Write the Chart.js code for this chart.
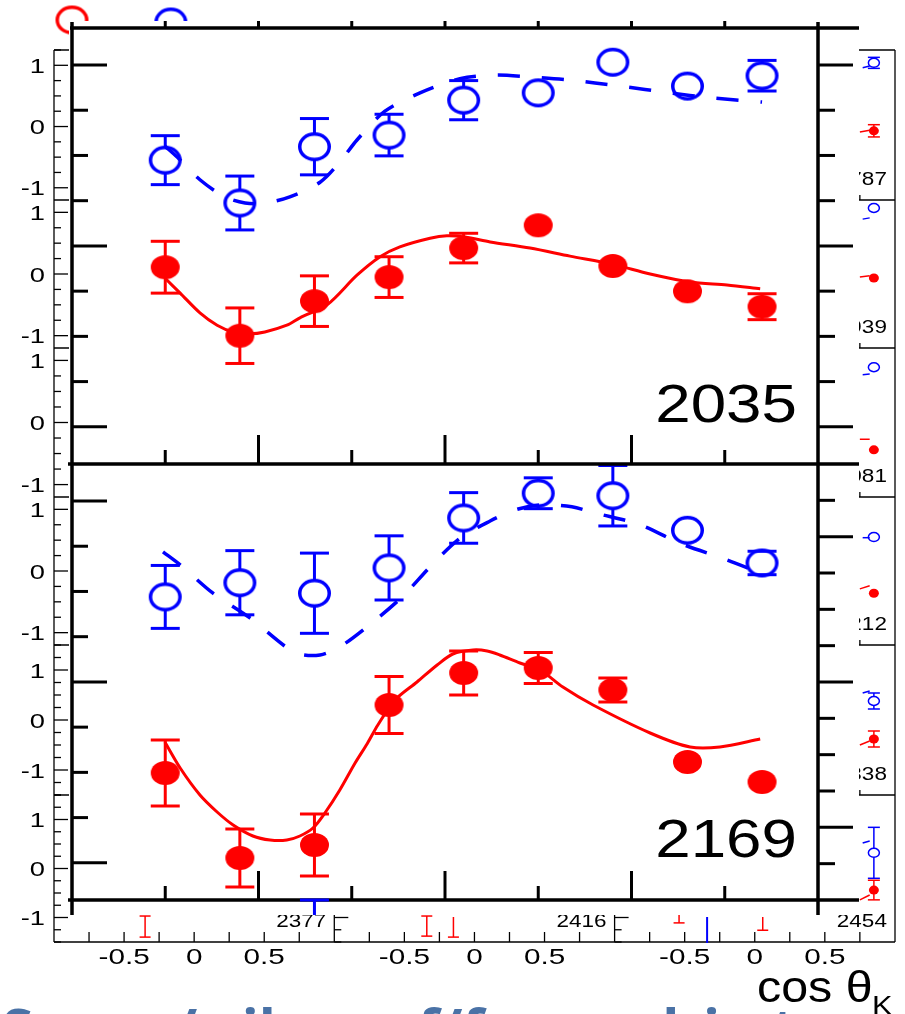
<!DOCTYPE html>
<html>
<head>
<meta charset="utf-8">
<title>K+ Lambda polarization vs cos theta_K</title>
<script src="https://cdn.jsdelivr.net/npm/chart.js@4.4.1/dist/chart.umd.min.js"></script>
<style>
  html, body { margin: 0; padding: 0; background: #fff; overflow: hidden; }
  canvas { display: block; }
</style>
</head>
<body>
<canvas id="plot" width="905" height="1014"></canvas>
<script>
// ---------- data ----------
const cosBins = [-0.75, -0.55, -0.35, -0.15, 0.05, 0.25, 0.45, 0.65, 0.85];
const energyLabels = ['2035', '2169'];

// W = 2035 MeV
const blue2035    = [-0.55, -1.25, -0.33, -0.14, 0.43, 0.55, 1.05, 0.66, 0.83];
const blue2035Err = [0.40, 0.44, 0.46, 0.34, 0.32, 0.05, 0.05, 0.05, 0.25];
const red2035     = [0.11, -1.00, -0.44, -0.05, 0.42, 0.79, 0.13, -0.28, -0.53];
const red2035Err  = [0.42, 0.45, 0.41, 0.33, 0.24, 0.05, 0.05, 0.05, 0.21];

// W = 2169 MeV
const blue2169    = [-0.42, -0.19, -0.36, 0.05, 0.86, 1.26, 1.22, 0.66, 0.13];
const blue2169Err = [0.51, 0.52, 0.65, 0.52, 0.41, 0.25, 0.49, 0.05, 0.19];
const red2169     = [-0.23, -1.08, -0.95, 0.45, 0.77, 0.82, 0.60, -0.12, -0.32];
const red2169Err  = [0.33, 0.29, 0.31, 0.285, 0.22, 0.155, 0.12, 0.05, 0.05];

// model curves
const blueFit2035X = [-0.751, -0.718, -0.657, -0.590, -0.536, -0.483, -0.416, -0.335, -0.282, -0.236, -0.161, -0.067, 0.040, 0.134, 0.228, 0.335, 0.469, 0.603, 0.710, 0.850];
const blueFit2035Y = [-0.32, -0.50, -0.87, -1.15, -1.25, -1.25, -1.15, -0.91, -0.58, -0.22, 0.25, 0.55, 0.78, 0.84, 0.81, 0.76, 0.66, 0.55, 0.47, 0.40];
const redFit2035X  = [-0.751, -0.710, -0.657, -0.611, -0.568, -0.523, -0.483, -0.424, -0.389, -0.316, -0.236, -0.174, -0.121, -0.040, 0.005, 0.054, 0.121, 0.228, 0.335, 0.448, 0.550, 0.657, 0.756, 0.845];
const redFit2035Y  = [-0.065, -0.31, -0.63, -0.83, -0.94, -0.97, -0.94, -0.83, -0.71, -0.50, -0.02, 0.28, 0.44, 0.58, 0.62, 0.60, 0.52, 0.42, 0.29, 0.16, 0.00, -0.13, -0.18, -0.24];
const blueFit2169X = [-0.756, -0.710, -0.622, -0.523, -0.429, -0.389, -0.335, -0.282, -0.206, -0.115, -0.038, 0.040, 0.121, 0.188, 0.255, 0.340, 0.402, 0.523, 0.630, 0.756, 0.845];
const blueFit2169Y = [0.31, 0.10, -0.36, -0.76, -1.22, -1.35, -1.36, -1.23, -0.89, -0.42, 0.08, 0.53, 0.81, 0.99, 1.07, 1.04, 0.94, 0.75, 0.45, 0.18, -0.03];
const redFit2169X  = [-0.751, -0.710, -0.657, -0.611, -0.568, -0.515, -0.469, -0.424, -0.389, -0.354, -0.322, -0.282, -0.241, -0.209, -0.180, -0.134, -0.075, -0.021, 0.021, 0.075, 0.113, 0.147, 0.201, 0.255, 0.316, 0.397, 0.550, 0.657, 0.737, 0.845];
const redFit2169Y  = [0.08, -0.18, -0.45, -0.62, -0.75, -0.86, -0.90, -0.90, -0.86, -0.78, -0.63, -0.40, -0.13, 0.06, 0.25, 0.50, 0.68, 0.85, 0.96, 1.00, 0.99, 0.95, 0.87, 0.80, 0.63, 0.45, 0.17, 0.03, 0.03, 0.11];

// small overview panels behind the enlarged view
const rowTickValues = [1, 0, -1];
const rowTickLabels = ['1', '0', '-1'];
const xTickValues = [-0.5, 0, 0.5];
const xTickLabels = ['-0.5', '0', '0.5'];
const col3Energies = ['1787', '1939', '2081', '2212', '2338', '2454'];
const bottomRowEnergies = ['2377', '2416', '2454'];
// last-bin points of the right-hand column (one per row)
const rightBlue    = [1.04, 1.07, 0.89, 0.55, 0.38, 0.32];
const rightBlueErr = [0.09, 0.05, 0.05, 0.05, 0.16, 0.52];
const rightRed     = [-0.07, -0.065, -0.44, -0.36, -0.38, -0.44];
const rightRedErr  = [0.10, 0.05, 0.05, 0.05, 0.16, 0.20];
const rightBlueStub = [[0.96, 0.99], [0.89, 0.91], [0.77, 0.78], [0.54, 0.54], [0.54, 0.58], [0.52, 0.56]];
const rightRedStub  = [[-0.09, -0.06], [-0.05, -0.03], [-0.27, -0.27], [-0.29, -0.24], [-0.50, -0.42], [-0.64, -0.54]];
// error bars of the bottom row poking out below the enlarged view
const stripCol   = [0, 1, 1, 2, 2, 2];
const stripCos   = [-0.35, -0.34, -0.15, -0.54, -0.34, 0.057];
const stripHi    = [-0.97, -0.97, -0.99, -0.91, -0.99, -0.99];
const stripLo    = [-1.40, -1.38, -1.40, -1.11, -1.52, -1.26];
const stripColor = ['red', 'red', 'red', 'red', 'blue', 'red'];
const stripCaps  = ['both', 'both', 'low', 'low', 'none', 'low'];

// ---------- layout ----------
const W = 905, H = 1014;
const FONT = '"Liberation Sans", Arial, Helvetica, sans-serif';
const BLUE = '#0000ff', RED = '#ff0000';
const frame = { left: 72, right: 818, top: 28, mid: 464, bottom: 900 };
const pad = { left: 69, right: 859, top: 21, bottom: 915 };
const rowTop = [50, 200, 348, 497, 645, 795];
const rowBot = [200, 348, 497, 645, 795, 942];
const rowMin = [-1.2, -1.2, -1.2, -1.2, -1.5, -1.5];
const rowMax = [1.25, 1.2, 1.2, 1.2, 1.5, 1.5];
const colLeft = [54, 334.3, 614.6];
const colWidth = 280.3;
const gridRight = 895;

function rowY(r, v) {
  return rowBot[r] - (v - rowMin[r]) / (rowMax[r] - rowMin[r]) * (rowBot[r] - rowTop[r]);
}
function colX(c, v) { return colLeft[c] + (v + 1) / 2 * colWidth; }
function line(g, x1, y1, x2, y2) { g.beginPath(); g.moveTo(x1, y1); g.lineTo(x2, y2); g.stroke(); }
function text(g, str, x, y, size, align, sx, weight, family) {
  g.save();
  g.font = (weight || 'normal') + ' ' + size + 'px ' + (family || FONT);
  g.translate(x, y);
  g.scale(sx, 1);
  g.textAlign = align;
  g.textBaseline = 'alphabetic';
  g.fillText(str, 0, 0);
  g.restore();
}
function ellipseImg(rx, ry, lw, color, filled) {
  const c = document.createElement('canvas');
  c.width = Math.ceil(2 * rx + lw + 2);
  c.height = Math.ceil(2 * ry + lw + 2);
  const g = c.getContext('2d');
  g.beginPath();
  g.ellipse(c.width / 2, c.height / 2, rx, ry, 0, 0, Math.PI * 2);
  if (filled) { g.fillStyle = color; g.fill(); }
  else { g.strokeStyle = color; g.lineWidth = lw; g.stroke(); }
  return c;
}

const ring = { rx: 14.75, ry: 12.75, lw: 3.5 };
const dot = { rx: 14.5, ry: 12 };
const ringBlue = ellipseImg(ring.rx, ring.ry, ring.lw, BLUE, false);
const ringRed = ellipseImg(ring.rx, ring.ry, ring.lw, RED, false);
const dotRed = ellipseImg(dot.rx, dot.ry, 0, RED, true);

// y axis for one sub-plot: zero line position and pixels per unit inside the plot frame
function yAxis(zeroPx, ppu) {
  return {
    type: 'linear', display: false, bounds: 'data',
    min: -(frame.bottom - zeroPx) / ppu,
    max: (zeroPx - frame.top) / ppu
  };
}

const pts = ys => cosBins.map((x, i) => ({ x, y: ys[i] }));
const curve = (xs, ys) => xs.map((x, i) => ({ x, y: ys[i] }));

function fitSet(label, xs, ys, axis, color, dashed) {
  return {
    label, data: curve(xs, ys), yAxisID: axis, showLine: true,
    borderColor: color, borderWidth: dashed ? 3.5 : 3, borderDash: dashed ? [22, 22] : [],
    pointRadius: 0, tension: 0.3, order: 2, clip: false
  };
}
function pointSet(label, ys, errs, axis, open) {
  return {
    label, data: pts(ys), yAxisID: axis, showLine: false,
    pointStyle: open ? ringBlue : dotRed, pointRadius: 15,
    borderColor: open ? BLUE : RED, backgroundColor: open ? BLUE : RED,
    order: 1, clip: false, errors: errs, openMarker: open
  };
}

// ---------- plugins ----------
const backdrop = {
  id: 'backdrop',
  beforeDraw(chart) {
    const g = chart.ctx;
    g.save();
    g.fillStyle = '#fff';
    g.fillRect(0, 0, W, H);
    g.strokeStyle = '#000';
    g.fillStyle = '#000';
    g.lineWidth = 1.3;

    // panel frames
    line(g, colLeft[0], rowTop[0], gridRight, rowTop[0]);
    rowBot.forEach(y => line(g, colLeft[0], y, gridRight, y));
    colLeft.forEach(x => line(g, x, rowTop[0], x, rowBot[5]));
    line(g, gridRight, rowTop[0], gridRight, rowBot[5]);

    for (let r = 0; r < rowTop.length; r++) {
      for (let c = 0; c < 3; c++) {
        for (let v = Math.ceil(rowMin[r] * 4) / 4; v <= rowMax[r] + 1e-9; v += 0.25) {
          const y = rowY(r, v);
          const major = Math.abs(v - Math.round(v)) < 1e-6;
          line(g, colLeft[c], y, colLeft[c] + (major ? 14 : 7), y);
        }
        for (let v = -0.75; v <= 0.75 + 1e-9; v += 0.25) {
          const x = colX(c, v);
          line(g, x, rowBot[r] - (r === 5 ? 10 : 5), x, rowBot[r]);
        }
      }
      rowTickValues.forEach((v, i) => text(g, rowTickLabels[i], 45, rowY(r, v) + 7.5, 21, 'right', 1.3));
      text(g, col3Energies[r], colLeft[2] + colWidth - 8, rowBot[r] - 15, 18, 'right', 1.25);
    }
    bottomRowEnergies.forEach((e, c) => {
      if (c < 2) text(g, e, colLeft[c] + colWidth - 8, rowBot[5] - 15, 18, 'right', 1.25);
    });
    for (let c = 0; c < 3; c++) {
      xTickValues.forEach((v, i) => text(g, xTickLabels[i], colX(c, v), 964, 22, 'center', 1.35));
    }

    // last-bin markers of the right-hand column
    g.lineWidth = 1.5;
    for (let r = 0; r < rowTop.length; r++) {
      const x = colX(2, 0.85);
      // model stubs
      g.strokeStyle = BLUE;
      line(g, colX(2, 0.77), rowY(r, rightBlueStub[r][0]), colX(2, 0.82), rowY(r, rightBlueStub[r][1]));
      g.strokeStyle = RED;
      line(g, colX(2, 0.75), rowY(r, rightRedStub[r][0]), colX(2, 0.82), rowY(r, rightRedStub[r][1]));
      // blue open marker
      const yb = rowY(r, rightBlue[r]);
      const eb = rowY(r, rightBlue[r] - rightBlueErr[r]) - yb;
      g.strokeStyle = BLUE;
      if (eb > 5) {
        line(g, x, yb - eb, x, yb - 4.5); line(g, x, yb + 4.5, x, yb + eb);
        line(g, x - 6, yb - eb, x + 6, yb - eb); line(g, x - 6, yb + eb, x + 6, yb + eb);
      }
      g.beginPath(); g.ellipse(x, yb, 5.5, 4.5, 0, 0, Math.PI * 2); g.stroke();
      // red filled marker
      const yr = rowY(r, rightRed[r]);
      const er = rowY(r, rightRed[r] - rightRedErr[r]) - yr;
      g.strokeStyle = RED; g.fillStyle = RED;
      if (er > 5) {
        line(g, x, yr - er, x, yr + er);
        line(g, x - 6, yr - er, x + 6, yr - er); line(g, x - 6, yr + er, x + 6, yr + er);
      }
      g.beginPath(); g.ellipse(x, yr, 5, 4.5, 0, 0, Math.PI * 2); g.fill();
    }

    // bottom-row error bars
    stripCos.forEach((v, i) => {
      const x = colX(stripCol[i], v);
      const y1 = rowY(5, stripHi[i]), y2 = rowY(5, stripLo[i]);
      g.strokeStyle = stripColor[i] === 'red' ? RED : BLUE;
      g.lineWidth = stripColor[i] === 'red' ? 1.5 : 2;
      line(g, x, y1, x, y2);
      if (stripCaps[i] === 'both') line(g, x - 5.5, y1, x + 5.5, y1);
      if (stripCaps[i] !== 'none') line(g, x - 5.5, y2, x + 5.5, y2);
    });

    // markers of the neighbouring enlarged plot peeking above the frame
    const xs = chart.scales.x;
    g.drawImage(ringRed, xs.getPixelForValue(-1.0) - ringRed.width / 2, pad.top - 1 - ringRed.height / 2);
    g.drawImage(ringBlue, xs.getPixelForValue(-0.735) - ringBlue.width / 2, pad.top + 1 - ringBlue.height / 2);

    // enlarged view sits on top of the overview
    g.fillStyle = '#fff';
    g.fillRect(pad.left, pad.top, pad.right - pad.left, pad.bottom - pad.top);
    g.restore();
  }
};

const errorBars = {
  id: 'errorBars',
  beforeDatasetsDraw(chart) {
    const g = chart.ctx;
    g.save();
    g.lineWidth = 3;
    g.lineCap = 'butt';
    chart.data.datasets.forEach((ds, i) => {
      if (!ds.errors) return;
      const meta = chart.getDatasetMeta(i);
      const ys = chart.scales[ds.yAxisID];
      const ry = ds.openMarker ? ring.ry : dot.ry;
      g.strokeStyle = ds.borderColor;
      meta.data.forEach((el, j) => {
        const v = ds.data[j].y, e = ds.errors[j];
        const yTop = ys.getPixelForValue(v + e), yBot = ys.getPixelForValue(v - e);
        if ((yBot - yTop) / 2 < ry * 0.9) return;
        if (ds.openMarker) {
          line(g, el.x, yTop, el.x, el.y - ry);
          line(g, el.x, el.y + ry, el.x, yBot);
        } else {
          line(g, el.x, yTop, el.x, yBot);
        }
        line(g, el.x - 14.5, yTop, el.x + 14.5, yTop);
        line(g, el.x - 14.5, yBot, el.x + 14.5, yBot);
      });
    });
    g.restore();
  }
};

const frameAxes = {
  id: 'frameAxes',
  afterDatasetsDraw(chart) {
    const g = chart.ctx;
    const xs = chart.scales.x;
    g.save();
    g.strokeStyle = '#000';
    g.fillStyle = '#000';
    g.lineCap = 'butt';
    g.lineWidth = 3.5;
    line(g, pad.left + 1, frame.top, pad.right, frame.top);
    line(g, pad.left - 1, frame.mid, pad.right, frame.mid);
    line(g, pad.left - 1, frame.bottom, pad.right, frame.bottom);
    line(g, frame.left, pad.top + 1, frame.left, pad.bottom);
    line(g, frame.right, pad.top + 1, frame.right, pad.bottom);

    g.lineWidth = 3;
    for (let v = -0.75; v <= 0.75 + 1e-9; v += 0.25) {
      const x = xs.getPixelForValue(v);
      line(g, x, frame.top - 7, x, frame.top);
      const len = Math.abs(v * 2 - Math.round(v * 2)) < 1e-6 ? 29 : 14;
      line(g, x, frame.mid - len, x, frame.mid);
      line(g, x, frame.bottom - len, x, frame.bottom);
    }
    // vertical-axis ticks of the upper and lower plots
    const step = (frame.mid - frame.top) / 9.64;
    for (let k = 0; k < 9; k++) {
      const long = k % 4 === 0;
      const y1 = 65 + step * k, y2 = y1 + (frame.mid - frame.top);
      line(g, frame.left, y1, frame.left + (long ? 35 : 16), y1);
      line(g, frame.left, y2, frame.left + (long ? 35 : 16), y2);
      line(g, frame.right, y1, frame.right + (long ? 35 : 17), y1);
    }
    const stepR = (frame.bottom - frame.mid) / 12;
    for (let k = 1; k < 12; k++) {
      const y = frame.mid + stepR * k;
      const long = k % 4 === 2;
      line(g, frame.right, y, frame.right + (long ? 35 : 17), y);
    }

    // blue error bar of the next plot down
    g.strokeStyle = BLUE;
    const xb = xs.getPixelForValue(cosBins[2]);
    line(g, xb - 14.5, frame.bottom, xb + 14.5, frame.bottom);
    line(g, xb, frame.bottom, xb, pad.bottom);

    g.fillStyle = '#000';
    text(g, energyLabels[0], 797, frame.mid - 42, 54, 'right', 1.18);
    text(g, energyLabels[1], 797, frame.bottom - 43, 54, 'right', 1.18);

    // axis title
    text(g, 'cos \u03B8', 757, 1002, 44, 'left', 1.1);
    text(g, 'K', 872, 1015, 28, 'left', 1.1);

    // slide text running below the figure
    g.fillStyle = '#4a72a6';
    const words = [['Some', 2], ['/', 174], ['oil', 207], ['of/for', 383], ['real', 570], ['in', 703], ['at', 738]];
    words.forEach(([w, x]) => text(g, w, x, 1049, 56, 'left', 1.0, 'bold', '"Open Sans", sans-serif'));
    g.restore();
  }
};

// ---------- chart ----------
new Chart(document.getElementById('plot').getContext('2d'), {
  type: 'scatter',
  data: {
    datasets: [
      fitSet('model P 2035', blueFit2035X, blueFit2035Y, 'yB1', BLUE, true),
      fitSet('model C 2035', redFit2035X, redFit2035Y, 'yR1', RED, false),
      fitSet('model P 2169', blueFit2169X, blueFit2169Y, 'yB2', BLUE, true),
      fitSet('model C 2169', redFit2169X, redFit2169Y, 'yR2', RED, false),
      pointSet('P 2035', blue2035, blue2035Err, 'yB1', true),
      pointSet('C 2035', red2035, red2035Err, 'yR1', false),
      pointSet('P 2169', blue2169, blue2169Err, 'yB2', true),
      pointSet('C 2169', red2169, red2169Err, 'yR2', false)
    ]
  },
  options: {
    responsive: false,
    devicePixelRatio: 1,
    animation: false,
    events: [],
    layout: { padding: { left: frame.left, right: W - frame.right, top: frame.top, bottom: H - frame.bottom } },
    plugins: { legend: { display: false }, tooltip: { enabled: false }, title: { display: false } },
    scales: {
      x: { type: 'linear', display: false, bounds: 'data', min: -1, max: 1 },
      yB1: yAxis(126.5, 61.2),
      yR1: yAxis(274, 61.7),
      yB2: yAxis(571, 61.7),
      yR2: yAxis(750, 100)
    }
  },
  plugins: [backdrop, errorBars, frameAxes]
});
</script>
</body>
</html>
